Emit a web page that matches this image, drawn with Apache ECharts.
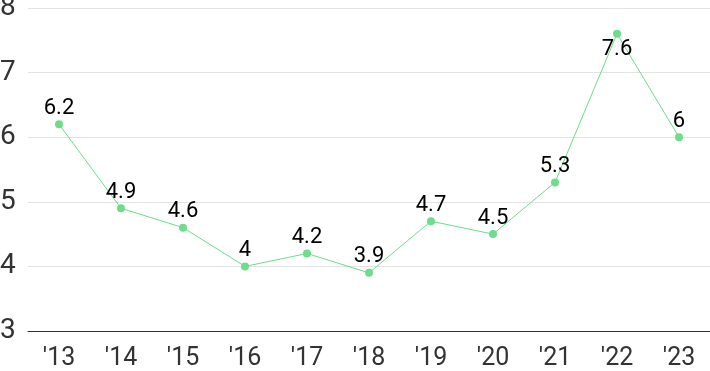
<!DOCTYPE html>
<html><head><meta charset="utf-8">
<script src="https://cdn.jsdelivr.net/npm/echarts@6/dist/echarts.min.js"></script>
<style>html,body{margin:0;padding:0;background:#fff}#c{width:710px;height:371px}</style>
</head><body><div id="c"></div>
<script>
const categories = ["'13","'14","'15","'16","'17","'18","'19","'20","'21","'22","'23"];
const values = [6.2, 4.9, 4.6, 4, 4.2, 3.9, 4.7, 4.5, 5.3, 7.6, 6];
const yTicks = [3, 4, 5, 6, 7, 8];

const chart = echarts.init(document.getElementById('c'));
chart.setOption({
  animation: false,
  grid: { left: 28, right: 0, top: 8, bottom: 40, containLabel: false, outerBoundsMode: 'none' },
  xAxis: {
    type: 'category', data: categories, boundaryGap: true,
    axisLine: { show: true, lineStyle: { color: '#333', width: 1 } },
    axisTick: { show: false },
    axisLabel: { color: '#333', fontFamily: 'Roboto', fontSize: 25, margin: 15 }
  },
  yAxis: {
    type: 'value', min: yTicks[0], max: yTicks[yTicks.length-1], interval: 1,
    axisLine: { show: false }, axisTick: { show: false },
    splitLine: { lineStyle: { color: '#e3e3e3', width: 1 } },
    axisLabel: { color: '#333', fontFamily: 'Roboto', fontSize: 28, margin: 28, align: 'left' }
  },
  series: [{
    type: 'line', data: values.map((v, i) => ({
      value: v,
      label: { position: i === 9 ? 'bottom' : 'top' }
    })),
    symbol: 'circle', symbolSize: 8,
    lineStyle: { color: '#6ddc8b', width: 1 },
    itemStyle: { color: '#6ddc8b' },
    label: { show: true, color: '#000', fontFamily: 'Roboto', fontSize: 22, distance: 1 }
  }]
});
</script></body></html>
